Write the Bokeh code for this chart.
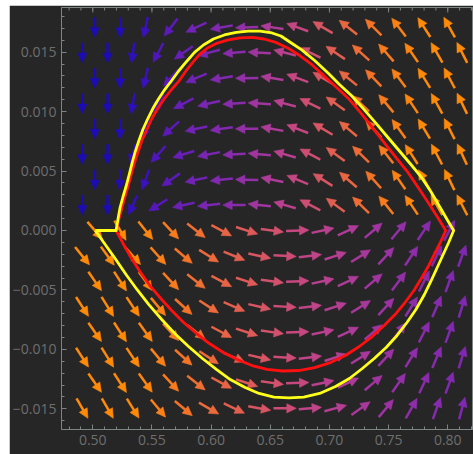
import math
from bokeh.plotting import figure
from bokeh.layouts import column, row
from bokeh.models import (Range1d, FixedTicker, CustomJSTickFormatter, ColumnDataSource,
                          LinearColorMapper, Spacer)
from bokeh.embed import file_html
from bokeh.resources import INLINE

# ---------------- data ----------------
X_TICKS = [0.50, 0.55, 0.60, 0.65, 0.70, 0.75, 0.80]
Y_TICKS = [-0.015, -0.010, -0.005, 0.0, 0.005, 0.010, 0.015]
X_MINOR = [round(0.47 + 0.01 * i, 2) for i in range(36)]
Y_MINOR = [round(-0.016 + 0.001 * i, 3) for i in range(35)]

ROW_Y = [0.01709, 0.01496, 0.01282, 0.01068, 0.00855, 0.00641, 0.00427, 0.00214,
         0.0, -0.00214, -0.00427, -0.00641, -0.00855, -0.01068, -0.01282, -0.01496]
EVEN_X = [0.5018, 0.5232, 0.5446, 0.5660, 0.5874, 0.6088, 0.6302, 0.6516,
          0.6730, 0.6944, 0.7158, 0.7372, 0.7586, 0.7800, 0.8014]
ODD_X = [0.4911, 0.5125, 0.5339, 0.5553, 0.5767, 0.5981, 0.6195, 0.6409,
         0.6623, 0.6837, 0.7051, 0.7265, 0.7479, 0.7693, 0.7907, 0.8121]

# arrow direction (degrees, on screen) per row
ARROW_ANGLE = [
    [270, 268, 258, 232, 205, 190, 182, 172, 160, 150, 142, 135, 128, 123, 119],
    [270, 270, 262, 242, 215, 195, 185, 177, 166, 155, 146, 138, 131, 125, 120, 117],
    [270, 268, 257, 228, 203, 189, 181, 171, 160, 150, 141, 134, 127, 122, 118],
    [270, 270, 260, 238, 207, 193, 184, 176, 165, 154, 145, 137, 130, 124, 119, 116],
    [270, 267, 252, 222, 192, 188, 180, 170, 159, 149, 140, 133, 126, 121, 117],
    [270, 270, 256, 228, 197, 191, 183, 175, 164, 153, 144, 136, 129, 123, 118, 115],
    [270, 265, 250, 215, 192, 186, 179, 169, 158, 148, 139, 132, 125, 120, 116],
    [270, 270, 245, 212, 192, 186, 180, 174, 164, 153, 144, 136, 129, 124, 120, 117],
    [311, 301, 309, 313, 322, 332, 342, 352, 2, 12, 25, 40, 50, 56, 62],
    [309, 306, 312, 312, 320, 328, 338, 348, 357, 7, 18, 32, 47, 56, 64, 70],
    [305, 303, 306, 313, 322, 332, 342, 352, 2, 12, 25, 40, 53, 63, 70],
    [303, 302, 304, 310, 318, 327, 337, 347, 357, 7, 18, 32, 47, 58, 67, 73],
    [305, 303, 306, 313, 322, 332, 342, 352, 2, 12, 25, 40, 53, 63, 70],
    [303, 302, 304, 310, 318, 327, 337, 347, 357, 7, 18, 32, 47, 58, 67, 73],
    [305, 303, 306, 313, 322, 332, 342, 352, 2, 12, 25, 40, 55, 65, 70],
    [300, 300, 302, 310, 320, 330, 335, 350, 0, 5, 15, 35, 50, 60, 70, 75],
]
# arrow colour value (0 = blue ... 1 = orange)
ARROW_MAG = [
    [0.0, 0.03, 0.12, 0.22, 0.29, 0.35, 0.42, 0.52, 0.62, 0.72, 0.82, 0.9, 0.96, 1.0, 1.0],
    [0.0, 0.0, 0.08, 0.18, 0.26, 0.32, 0.38, 0.47, 0.57, 0.67, 0.77, 0.86, 0.93, 0.98, 1.0, 1.0],
    [0.0, 0.03, 0.12, 0.22, 0.29, 0.35, 0.42, 0.52, 0.62, 0.72, 0.82, 0.9, 0.96, 1.0, 1.0],
    [0.0, 0.0, 0.08, 0.18, 0.26, 0.32, 0.38, 0.47, 0.57, 0.67, 0.77, 0.86, 0.93, 0.98, 1.0, 1.0],
    [0.0, 0.03, 0.12, 0.22, 0.29, 0.35, 0.42, 0.52, 0.62, 0.72, 0.82, 0.9, 0.96, 1.0, 1.0],
    [0.0, 0.0, 0.08, 0.18, 0.26, 0.32, 0.38, 0.47, 0.57, 0.67, 0.77, 0.86, 0.93, 0.98, 1.0, 1.0],
    [0.0, 0.03, 0.12, 0.22, 0.29, 0.35, 0.42, 0.52, 0.62, 0.72, 0.82, 0.9, 0.96, 1.0, 1.0],
    [0.0, 0.0, 0.1, 0.2, 0.27, 0.32, 0.38, 0.47, 0.57, 0.67, 0.77, 0.86, 0.93, 0.98, 1.0, 1.0],
    [1.0, 1.0, 0.98, 0.93, 0.87, 0.81, 0.75, 0.69, 0.63, 0.57, 0.52, 0.47, 0.42, 0.38, 0.35],
    [1.0, 1.0, 1.0, 0.95, 0.9, 0.84, 0.78, 0.72, 0.66, 0.6, 0.55, 0.5, 0.45, 0.4, 0.37, 0.34],
    [1.0, 1.0, 0.98, 0.93, 0.87, 0.81, 0.75, 0.69, 0.63, 0.57, 0.52, 0.47, 0.42, 0.38, 0.35],
    [1.0, 1.0, 1.0, 0.95, 0.9, 0.84, 0.78, 0.72, 0.66, 0.6, 0.55, 0.5, 0.45, 0.4, 0.37, 0.34],
    [1.0, 1.0, 0.98, 0.93, 0.87, 0.81, 0.75, 0.69, 0.63, 0.57, 0.52, 0.47, 0.42, 0.38, 0.35],
    [1.0, 1.0, 1.0, 0.95, 0.9, 0.84, 0.78, 0.72, 0.66, 0.6, 0.55, 0.5, 0.45, 0.4, 0.37, 0.34],
    [1.0, 1.0, 0.98, 0.93, 0.87, 0.81, 0.75, 0.69, 0.63, 0.57, 0.52, 0.47, 0.42, 0.38, 0.35],
    [1.0, 1.0, 1.0, 0.95, 0.9, 0.84, 0.78, 0.72, 0.66, 0.6, 0.55, 0.5, 0.45, 0.4, 0.37, 0.34],
]

yellow_x = [0.50210, 0.51972, 0.52139, 0.52307, 0.52559, 0.52811, 0.53062, 0.53314, 0.53566, 0.53901,
            0.54237, 0.54656, 0.55076, 0.55579, 0.56083, 0.56670, 0.57257, 0.57929, 0.58600, 0.59355,
            0.60194, 0.61117, 0.62124, 0.63130, 0.64137, 0.65144, 0.65899, 0.66654, 0.67661, 0.68752,
            0.69926, 0.70849, 0.71856, 0.72863, 0.73870, 0.74876, 0.75883, 0.76890, 0.77729, 0.78568,
            0.79407, 0.79994, 0.80498,
            0.80078, 0.79575, 0.79071, 0.78568, 0.77981, 0.77310, 0.76554, 0.75715, 0.74792, 0.73786,
            0.72779, 0.71688, 0.70514, 0.69171, 0.67829, 0.66570, 0.65312, 0.64053, 0.62879, 0.61620,
            0.60446, 0.59271, 0.58096, 0.56922, 0.55831, 0.54740, 0.53734, 0.52811, 0.51888, 0.51049,
            0.50210]
yellow_y = [0.0, 0.0, 0.00101, 0.00193, 0.00286, 0.00370, 0.00463, 0.00564, 0.00656, 0.00757,
            0.00850, 0.00942, 0.01026, 0.01111, 0.01186, 0.01262, 0.01342, 0.01422, 0.01498, 0.01561,
            0.01611, 0.01645, 0.01666, 0.01678, 0.01678, 0.01662, 0.01636, 0.01586, 0.01519, 0.01430,
            0.01321, 0.01228, 0.01136, 0.01026, 0.00909, 0.00791, 0.00673, 0.00555, 0.00454, 0.00328,
            0.00185, 0.00084, 0.0,
            -0.00101, -0.00210, -0.00320, -0.00429, -0.00547, -0.00665, -0.00774, -0.00883, -0.00984, -0.01077,
            -0.01161, -0.01245, -0.01312, -0.01371, -0.01401, -0.01409, -0.01401, -0.01371, -0.01321, -0.01254,
            -0.01169, -0.01077, -0.00976, -0.00867, -0.00749, -0.00623, -0.00496, -0.00370, -0.00236, -0.00118,
            0.0]

red_x = [0.51972, 0.52223, 0.52475, 0.52727, 0.52978, 0.53230, 0.53482, 0.53817, 0.54153, 0.54573,
         0.54992, 0.55495, 0.55999, 0.56586, 0.57257, 0.57845, 0.58432, 0.59019, 0.59691, 0.60530,
         0.61452, 0.62459, 0.63466, 0.64473, 0.65480, 0.66486, 0.67493, 0.68500, 0.69507, 0.70514,
         0.71604, 0.72611, 0.73618, 0.74625, 0.75632, 0.76638, 0.77561, 0.78401, 0.79155, 0.79826,
         0.79407, 0.78904, 0.78401, 0.77813, 0.77142, 0.76387, 0.75548, 0.74625, 0.73618, 0.72527,
         0.71353, 0.70094, 0.68752, 0.67409, 0.66067, 0.64724, 0.63466, 0.62207, 0.61033, 0.59858,
         0.58768, 0.57677, 0.56670, 0.55747, 0.54824, 0.53985, 0.53230, 0.52559, 0.51972]
red_y = [0.0, 0.00101, 0.00193, 0.00286, 0.00370, 0.00463, 0.00555, 0.00656, 0.00757, 0.00850,
         0.00942, 0.01026, 0.01102, 0.01178, 0.01254, 0.01338, 0.01413, 0.01481, 0.01535, 0.01577,
         0.01603, 0.01620, 0.01624, 0.01611, 0.01582, 0.01535, 0.01472, 0.01397, 0.01304, 0.01211,
         0.01111, 0.00993, 0.00867, 0.00740, 0.00614, 0.00488, 0.00353, 0.00227, 0.00109, 0.0,
         -0.00093, -0.00193, -0.00294, -0.00395, -0.00505, -0.00606, -0.00707, -0.00799, -0.00892, -0.00976,
         -0.01052, -0.01111, -0.01153, -0.01178, -0.01182, -0.01169, -0.01136, -0.01085, -0.01026, -0.00951,
         -0.00867, -0.00774, -0.00673, -0.00572, -0.00463, -0.00345, -0.00227, -0.00109, 0.0]

# ---------------- layout / style ----------------
PAD_L, PAD_T = 9, 5
W, H = 464, 449
BL, BR, BT, BB = 49, 0, 2, 25
X0, X1 = 0.47357, 0.82176
Y0, Y1 = -0.016742, 0.018761
SX = (X1 - X0) / (W - BL - BR)
SY = (Y1 - Y0) / (H - BT - BB)

BG = "#262626"
FRAME = "#7b8583"
LABEL = "#6e6e6e"

anchors = ["#1c0cb4", "#3410bc", "#5618bc", "#7424b4", "#8e2eaa", "#a8389c",
           "#c04488", "#d4526a", "#e6624a", "#f47428", "#ff8a08"]


def _hex(c):
    return tuple(int(c[i:i + 2], 16) for i in (1, 3, 5))


PAL = []
for k in range(256):
    t = k / 255 * (len(anchors) - 1)
    i = min(int(t), len(anchors) - 2)
    f = t - i
    a, b = _hex(anchors[i]), _hex(anchors[i + 1])
    PAL.append("#%02x%02x%02x" % tuple(round(a[n] + (b[n] - a[n]) * f) for n in range(3)))
mapper = LinearColorMapper(palette=PAL, low=0.0, high=1.0)

fig = figure(width=W, height=H, x_range=Range1d(X0, X1), y_range=Range1d(Y0, Y1),
             output_backend="svg", toolbar_location=None,
             min_border_left=BL, min_border_right=BR, min_border_top=BT, min_border_bottom=BB)
fig.background_fill_color = BG
fig.border_fill_color = BG
fig.outline_line_color = FRAME
fig.outline_line_width = 1
fig.xgrid.visible = False
fig.ygrid.visible = False

fig.xaxis.ticker = FixedTicker(ticks=X_TICKS, minor_ticks=X_MINOR)
fig.yaxis.ticker = FixedTicker(ticks=Y_TICKS, minor_ticks=Y_MINOR)
fig.xaxis.formatter = CustomJSTickFormatter(code="return tick.toFixed(2);")
fig.yaxis.formatter = CustomJSTickFormatter(
    code="return (tick < -1e-12 ? '\u2212' : '') + Math.abs(tick).toFixed(3);")
for ax in (fig.xaxis, fig.yaxis):
    ax.axis_line_color = None
    ax.major_tick_line_color = FRAME
    ax.minor_tick_line_color = FRAME
    ax.major_tick_in = 5
    ax.major_tick_out = 0
    ax.minor_tick_in = 3
    ax.minor_tick_out = 0
    ax.major_label_text_color = LABEL
    ax.major_label_text_font = "Open Sans"
    ax.major_label_text_font_size = "14px"
    ax.major_label_standoff = 5

# top frame ticks
fig.ray(x=X_TICKS, y=[Y1] * len(X_TICKS), length=5, angle=-math.pi / 2,
        length_units="screen", line_color=FRAME, line_width=1)
fig.ray(x=X_MINOR, y=[Y1] * len(X_MINOR), length=3, angle=-math.pi / 2,
        length_units="screen", line_color=FRAME, line_width=1)

# ---------------- arrows ----------------
HL, HW = 9.5, 4.6
seg = dict(x0=[], y0=[], x1=[], y1=[], mag=[])
heads = dict(xs=[], ys=[], mag=[])
for r, yc in enumerate(ROW_Y):
    cols = EVEN_X if r % 2 == 0 else ODD_X
    for j, xc in enumerate(cols):
        a = math.radians(ARROW_ANGLE[r][j])
        m = ARROW_MAG[r][j]
        L = 20.0 + 3.0 * min(m / 0.3, 1.0)
        ux, uy = math.cos(a), math.sin(a)
        nx, ny = -uy, ux
        tip = (xc + 0.5 * L * ux * SX, yc + 0.5 * L * uy * SY)
        tail = (xc - 0.5 * L * ux * SX, yc - 0.5 * L * uy * SY)
        base = (tip[0] - HL * ux * SX, tip[1] - HL * uy * SY)
        seg["x0"].append(tail[0]); seg["y0"].append(tail[1])
        seg["x1"].append(base[0] + 1.5 * ux * SX); seg["y1"].append(base[1] + 1.5 * uy * SY)
        seg["mag"].append(m)
        heads["xs"].append([tip[0], base[0] + HW * nx * SX, base[0] - HW * nx * SX])
        heads["ys"].append([tip[1], base[1] + HW * ny * SY, base[1] - HW * ny * SY])
        heads["mag"].append(m)

cmap = {"field": "mag", "transform": mapper}
fig.segment("x0", "y0", "x1", "y1", source=ColumnDataSource(seg), line_color=cmap,
            line_width=2.5, line_cap="butt")
fig.patches("xs", "ys", source=ColumnDataSource(heads), fill_color=cmap, line_color=cmap,
            line_width=0.6)

# ---------------- curves ----------------
fig.line(red_x, red_y, line_color="#ff1010", line_width=2.8, line_join="round")
fig.line(yellow_x, yellow_y, line_color="#ffff1a", line_width=2.8, line_join="round")

p = column(Spacer(width=W + PAD_L, height=PAD_T),
           row(Spacer(width=PAD_L, height=H), fig, spacing=0), spacing=0)

open("out.html", "w").write(file_html(p, INLINE))
